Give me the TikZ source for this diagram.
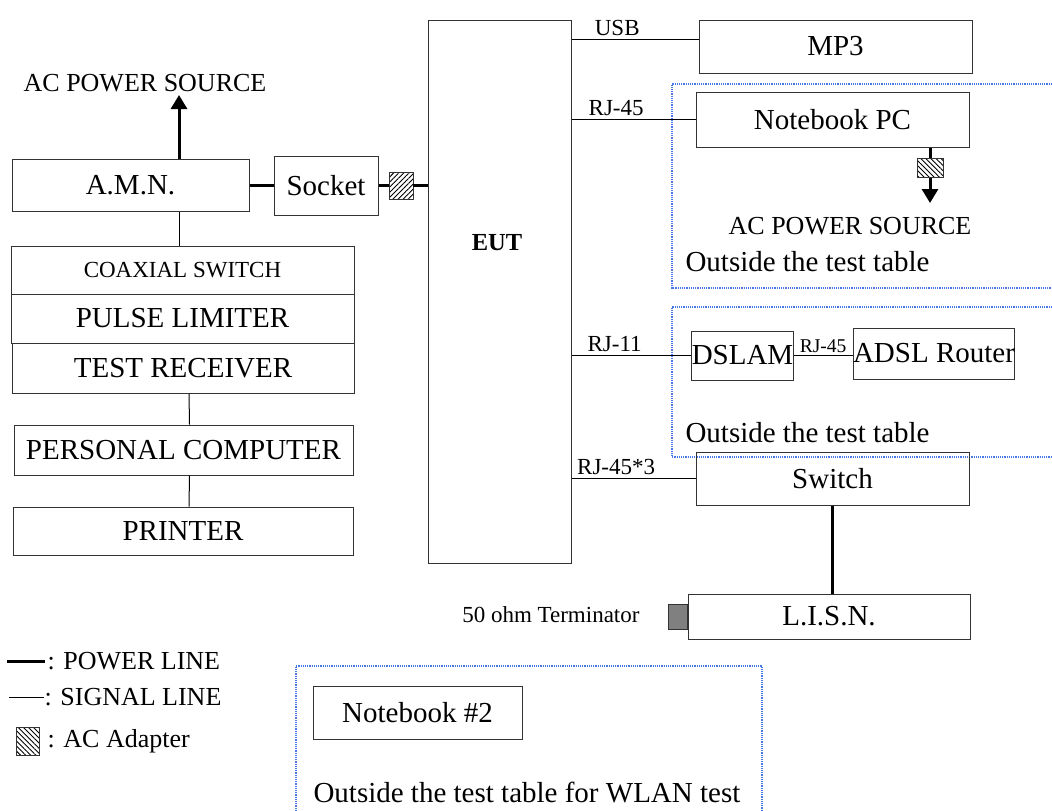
\documentclass[tikz,border=0pt]{standalone}
\usepackage{fontspec}
\setmainfont{Liberation Serif}
\usepackage{tikz}
\usetikzlibrary{positioning,arrows.meta,patterns.meta}
\newcommand{\bigsize}{\fontsize{29}{33}\selectfont}
\newcommand{\midsize}{\fontsize{26}{30}\selectfont}
\newcommand{\lblsize}{\fontsize{23}{26}\selectfont}
\newcommand{\smallsize}{\fontsize{19.5}{22}\selectfont}
\colorlet{outline}{black!80}
\definecolor{fence}{RGB}{70,120,230}

\begin{document}
\begin{tikzpicture}[x=1pt,y=-1pt,line width=1pt]
  \tikzstyle{unit}=[draw=outline,rectangle,inner sep=0pt,font=\bigsize]
  \tikzstyle{adapter}=[draw=outline,inner sep=0pt,pattern={Lines[angle=-45,distance=3.6pt,line width=0.9pt]}]
  \tikzstyle{power}=[line width=3pt]
  \tikzstyle{port}=[above,font=\lblsize,inner sep=3pt,pos=0.36]
  \tikzstyle{area}=[draw=fence,densely dotted,line width=1.2pt]
  \tikzstyle{note}=[inner sep=0pt,font=\bigsize]
  \tikzstyle{tip}=[-{Triangle[length=14pt,width=16pt]}]

  \useasboundingbox (0,0) rectangle (1052,811);

  % equipment under test
  \node[unit,minimum width=143,minimum height=543] (eut) at (499.5,291.5) {};
  \node[note,font=\fontsize{24.5}{28}\selectfont\bfseries] (euttext) at (497,243) {EUT};

  % measuring chain
  \node[note,font=\midsize] (acleft) at (145,83) {AC POWER SOURCE};
  \node[unit,minimum width=237,minimum height=52] (amn) at (130.5,185.5) {A.M.N.};
  \node[unit,minimum width=104,minimum height=59] (socket) at (326,185.5) {Socket};
  \node[adapter,pattern={Lines[angle=45,distance=3.6pt,line width=0.9pt]},minimum width=24,minimum height=27] (adp1) at (401,185.5) {};
  \node[unit,font=\lblsize,minimum width=343,minimum height=48] (coax) at (182.5,270) {COAXIAL SWITCH};
  \node[unit,minimum width=343,minimum height=49] (pulse) at (182.5,318.5) {PULSE LIMITER};
  \node[unit,minimum width=342,minimum height=50] (recv) at (183,368) {TEST RECEIVER};
  \node[unit,minimum width=339,minimum height=50] (pc) at (183.5,450) {PERSONAL COMPUTER};
  \node[unit,minimum width=340,minimum height=48] (printer) at (183,531) {PRINTER};

  \coordinate (acl) at (179,95);
  \draw[power,tip] (amn.north -| acl) -- (acl);
  \draw (amn.south -| acl) -- (coax.north -| acl);
  \draw[power] (amn) -- (socket);
  \draw[power] (socket) -- (adp1);
  \draw[power] (adp1) -- (adp1 -| eut.west);
  \draw ([xshift=6]recv.south) -- ([xshift=6]pc.north);
  \draw ([xshift=6]pc.south) -- ([xshift=6]printer.north);

  % peripherals
  \node[unit,minimum width=273,minimum height=53] (mp3) at (835.5,46.5) {MP3};
  \draw ([yshift=7.5]mp3.west -| eut.east) -- node[port] {USB} ([yshift=7.5]mp3.west);

  \node[unit,minimum width=273,minimum height=55] (nbpc) at (832.5,119.5) {Notebook PC};
  \draw (nbpc.west -| eut.east) -- node[port] {RJ-45} (nbpc.west);
  \node[adapter,minimum width=26,minimum height=19] (adp2) at (930,167.5) {};
  \coordinate (acr) at (930,203);
  \draw[power] (nbpc.south -| adp2) -- (adp2);
  \draw[power,tip] (adp2) -- (acr);
  \node[note,font=\midsize] (acright) at (850,226) {AC POWER SOURCE};
  \node[note,anchor=west] (out1) at (685,262) {Outside the test table};
  \draw[area] (1052,84) -- (672,84) -- (672,288) -- (1052,288);

  \node[unit,minimum width=101,minimum height=49] (dslam) at (742.5,355.5) {DSLAM};
  \node[unit,minimum width=160,minimum height=51] (adsl) at (934,353.5) {ADSL Router};
  \draw (dslam.west -| eut.east) -- node[port] {RJ-11} (dslam.west);
  \draw (dslam.east) -- node[above,font=\smallsize,inner sep=2pt] {RJ-45} (dslam.east -| adsl.west);
  \node[note,anchor=west] (out2) at (685,433) {Outside the test table};
  \draw[area] (1052,307) -- (672,307) -- (672,457) -- (1052,457);

  \node[unit,minimum width=273,minimum height=53] (switch) at (832.5,478.5) {Switch};
  \draw (switch.west -| eut.east) -- node[port] {RJ-45*3} (switch.west);
  \node[unit,minimum width=282,minimum height=45] (lisn) at (829,616.5) {L.I.S.N.};
  \draw[power] (switch.south) -- (switch.south |- lisn.north);
  \node[draw=outline,fill=black!50,inner sep=0pt,minimum width=19,minimum height=25,anchor=east] (term) at (lisn.west) {};
  \node[note,font=\lblsize,anchor=east] (termtext) at (640,615) {50 ohm Terminator};

  % wireless client
  \draw[area] (296,811) -- (296,666) -- (762,666) -- (762,811);
  \node[unit,minimum width=209,minimum height=53] (nb2) at (417.5,712.5) {Notebook \#2};
  \node[note,anchor=west] (out3) at (313,793) {Outside the test table for WLAN test};

  % legend
  \coordinate (lgp) at (7,661);
  \node[note,font=\midsize,anchor=west] (lgpow) at (47,661) {: POWER LINE};
  \draw[power] (lgp) -- ([xshift=-2]lgpow.west);
  \coordinate (lgs) at (9,697);
  \node[note,font=\midsize,anchor=west] (lgsig) at (44,697) {: SIGNAL LINE};
  \draw (lgs) -- (lgsig.west);
  \node[adapter,minimum width=23,minimum height=28] (lgadp) at (27.5,741.5) {};
  \node[note,font=\midsize,anchor=west] (lgada) at (47,741) {: AC Adapter};
\end{tikzpicture}
\end{document}
